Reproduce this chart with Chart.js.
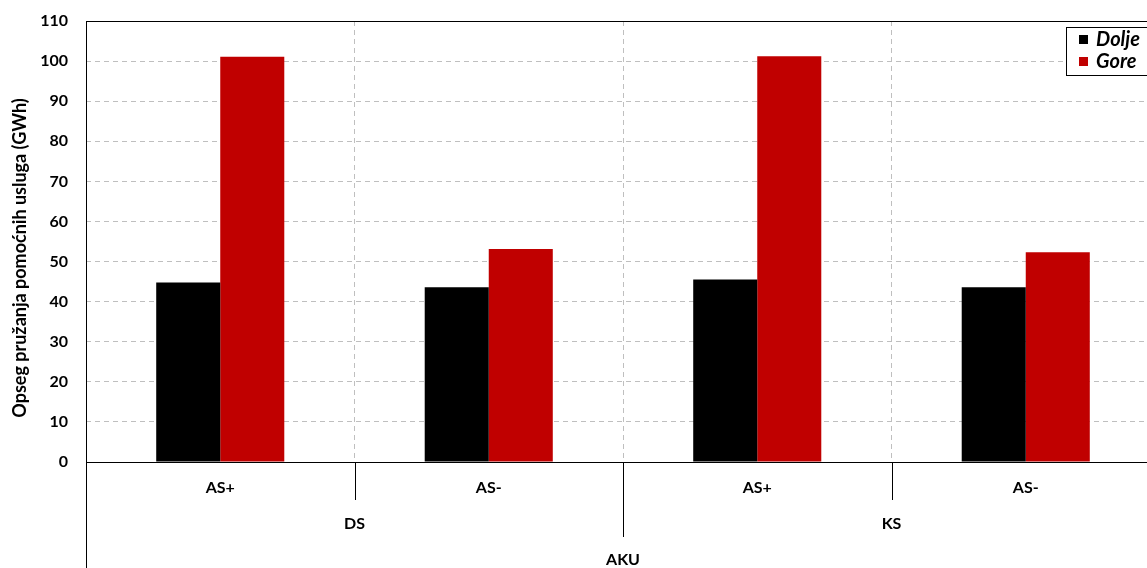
<!DOCTYPE html>
<html lang="hr">
<head>
  <meta charset="UTF-8" />
  <title>Opseg pružanja pomoćnih usluga</title>
  <script src="https://cdn.jsdelivr.net/npm/chart.js"></script>
  <style>
    html, body { margin: 0; padding: 0; background: #fff; overflow: hidden; }
    #wrap { width: 1162px; height: 568px; position: relative; }
  </style>
</head>
<body>
  <div id="wrap"><canvas id="chart"></canvas></div>

  <script>
    // data
    const categories = ["AS+", "AS-", "AS+", "AS-"];
    const subGroups = ["DS", "KS"];     // each covers two categories
    const topGroups = ["AKU"];          // covers all four
    const seriesNames = ["Dolje", "Gore"];
    const dolje = [44.8, 43.6, 45.5, 43.6];
    const gore = [101.1, 53.1, 101.2, 52.3];
    const yTicks = [0, 10, 20, 30, 40, 50, 60, 70, 80, 90, 100, 110];
    const yTitle = "Opseg pružanja pomoćnih usluga (GWh)";

    const colors = ["#000000", "#c00000"];
    const FONT = "Lato, 'Open Sans', sans-serif";

    const extras = {
      id: "extras",
      afterDraw(chart) {
        const { ctx, chartArea: a, scales: { x } } = chart;
        const H = chart.height;
        const mid = (i) => (x.getPixelForValue(i - 1) + x.getPixelForValue(i)) / 2;

        ctx.save();
        ctx.strokeStyle = "#000";
        ctx.lineWidth = 1;
        ctx.setLineDash([]);
        // plot frame
        ctx.strokeRect(a.left + 0.5, a.top + 0.5, a.right - a.left, a.bottom - a.top);
        // left axis runs down through the label rows
        ctx.beginPath();
        ctx.moveTo(a.left + 0.5, a.bottom);
        ctx.lineTo(a.left + 0.5, H);
        // separators between sub groups
        [1, 3].forEach(i => {
          const px = Math.round(mid(i)) + 0.5;
          ctx.moveTo(px, a.bottom);
          ctx.lineTo(px, a.bottom + 38);
        });
        // separator between DS and KS
        const p2 = Math.round(mid(2)) + 0.5;
        ctx.moveTo(p2, a.bottom);
        ctx.lineTo(p2, a.bottom + 75);
        ctx.stroke();

        // group labels
        ctx.fillStyle = "#000";
        ctx.font = "bold 16px " + FONT;
        ctx.textAlign = "center";
        ctx.textBaseline = "middle";
        subGroups.forEach((g, k) => {
          const cx = (x.getPixelForValue(2 * k) + x.getPixelForValue(2 * k + 1)) / 2;
          ctx.fillText(g, cx, a.bottom + 62);
        });
        topGroups.forEach(g => {
          const cx = (x.getPixelForValue(0) + x.getPixelForValue(categories.length - 1)) / 2;
          ctx.fillText(g, cx, a.bottom + 98);
        });

        // y axis title (sits a bit below the plot centre in the original)
        ctx.save();
        ctx.translate(20, 258);
        ctx.rotate(-Math.PI / 2);
        ctx.font = "bold 18px " + FONT;
        ctx.fillText(yTitle, 0, 0);
        ctx.restore();

        // legend box
        const lx = 1066, ly = 27;
        ctx.fillStyle = "#fff";
        ctx.fillRect(lx, ly, 120, 48);
        ctx.strokeRect(lx + 0.5, ly + 0.5, 120, 48);
        ctx.font = "italic bold 20px " + FONT;
        ctx.textAlign = "left";
        chart.data.datasets.forEach((ds, k) => {
          const cy = ly + 12 + k * 22;
          ctx.fillStyle = ds.backgroundColor;
          ctx.fillRect(lx + 13, cy - 4, 9, 9);
          ctx.fillStyle = "#000";
          ctx.fillText(ds.label, lx + 30, cy + 1);
        });
        ctx.restore();
      }
    };

    new Chart(document.getElementById("chart"), {
      type: "bar",
      data: {
        labels: categories,
        datasets: [
          { label: seriesNames[0], data: dolje, backgroundColor: colors[0] },
          { label: seriesNames[1], data: gore, backgroundColor: colors[1] }
        ]
      },
      options: {
        responsive: true,
        maintainAspectRatio: false,
        animation: false,
        layout: { padding: { left: 0, right: 2, top: 21, bottom: 0 } },
        datasets: { bar: { categoryPercentage: 0.477, barPercentage: 1 } },
        plugins: {
          legend: { display: false },
          tooltip: { enabled: false }
        },
        scales: {
          x: {
            grid: {
              offset: true,
              color: "#bfbfbf",
              drawTicks: false
            },
            border: { display: false, dash: [5, 4] },
            ticks: {
              color: "#000",
              font: { family: FONT, size: 16, weight: "bold" },
              padding: 16
            },
            afterFit(scale) { scale.height = 106; }
          },
          y: {
            min: 0,
            max: 110,
            afterBuildTicks(scale) { scale.ticks = yTicks.map(v => ({ value: v })); },
            grid: { color: "#bfbfbf", drawTicks: false },
            border: { display: false, dash: [5, 4] },
            ticks: {
              color: "#000",
              font: { family: FONT, size: 16, weight: "bold" },
              padding: 18
            },
            afterFit(scale) {
              scale.width = 86;
              scale.paddingTop = 0;
              scale.paddingBottom = 0;
            }
          }
        }
      },
      plugins: [extras]
    });
  </script>
</body>
</html>
